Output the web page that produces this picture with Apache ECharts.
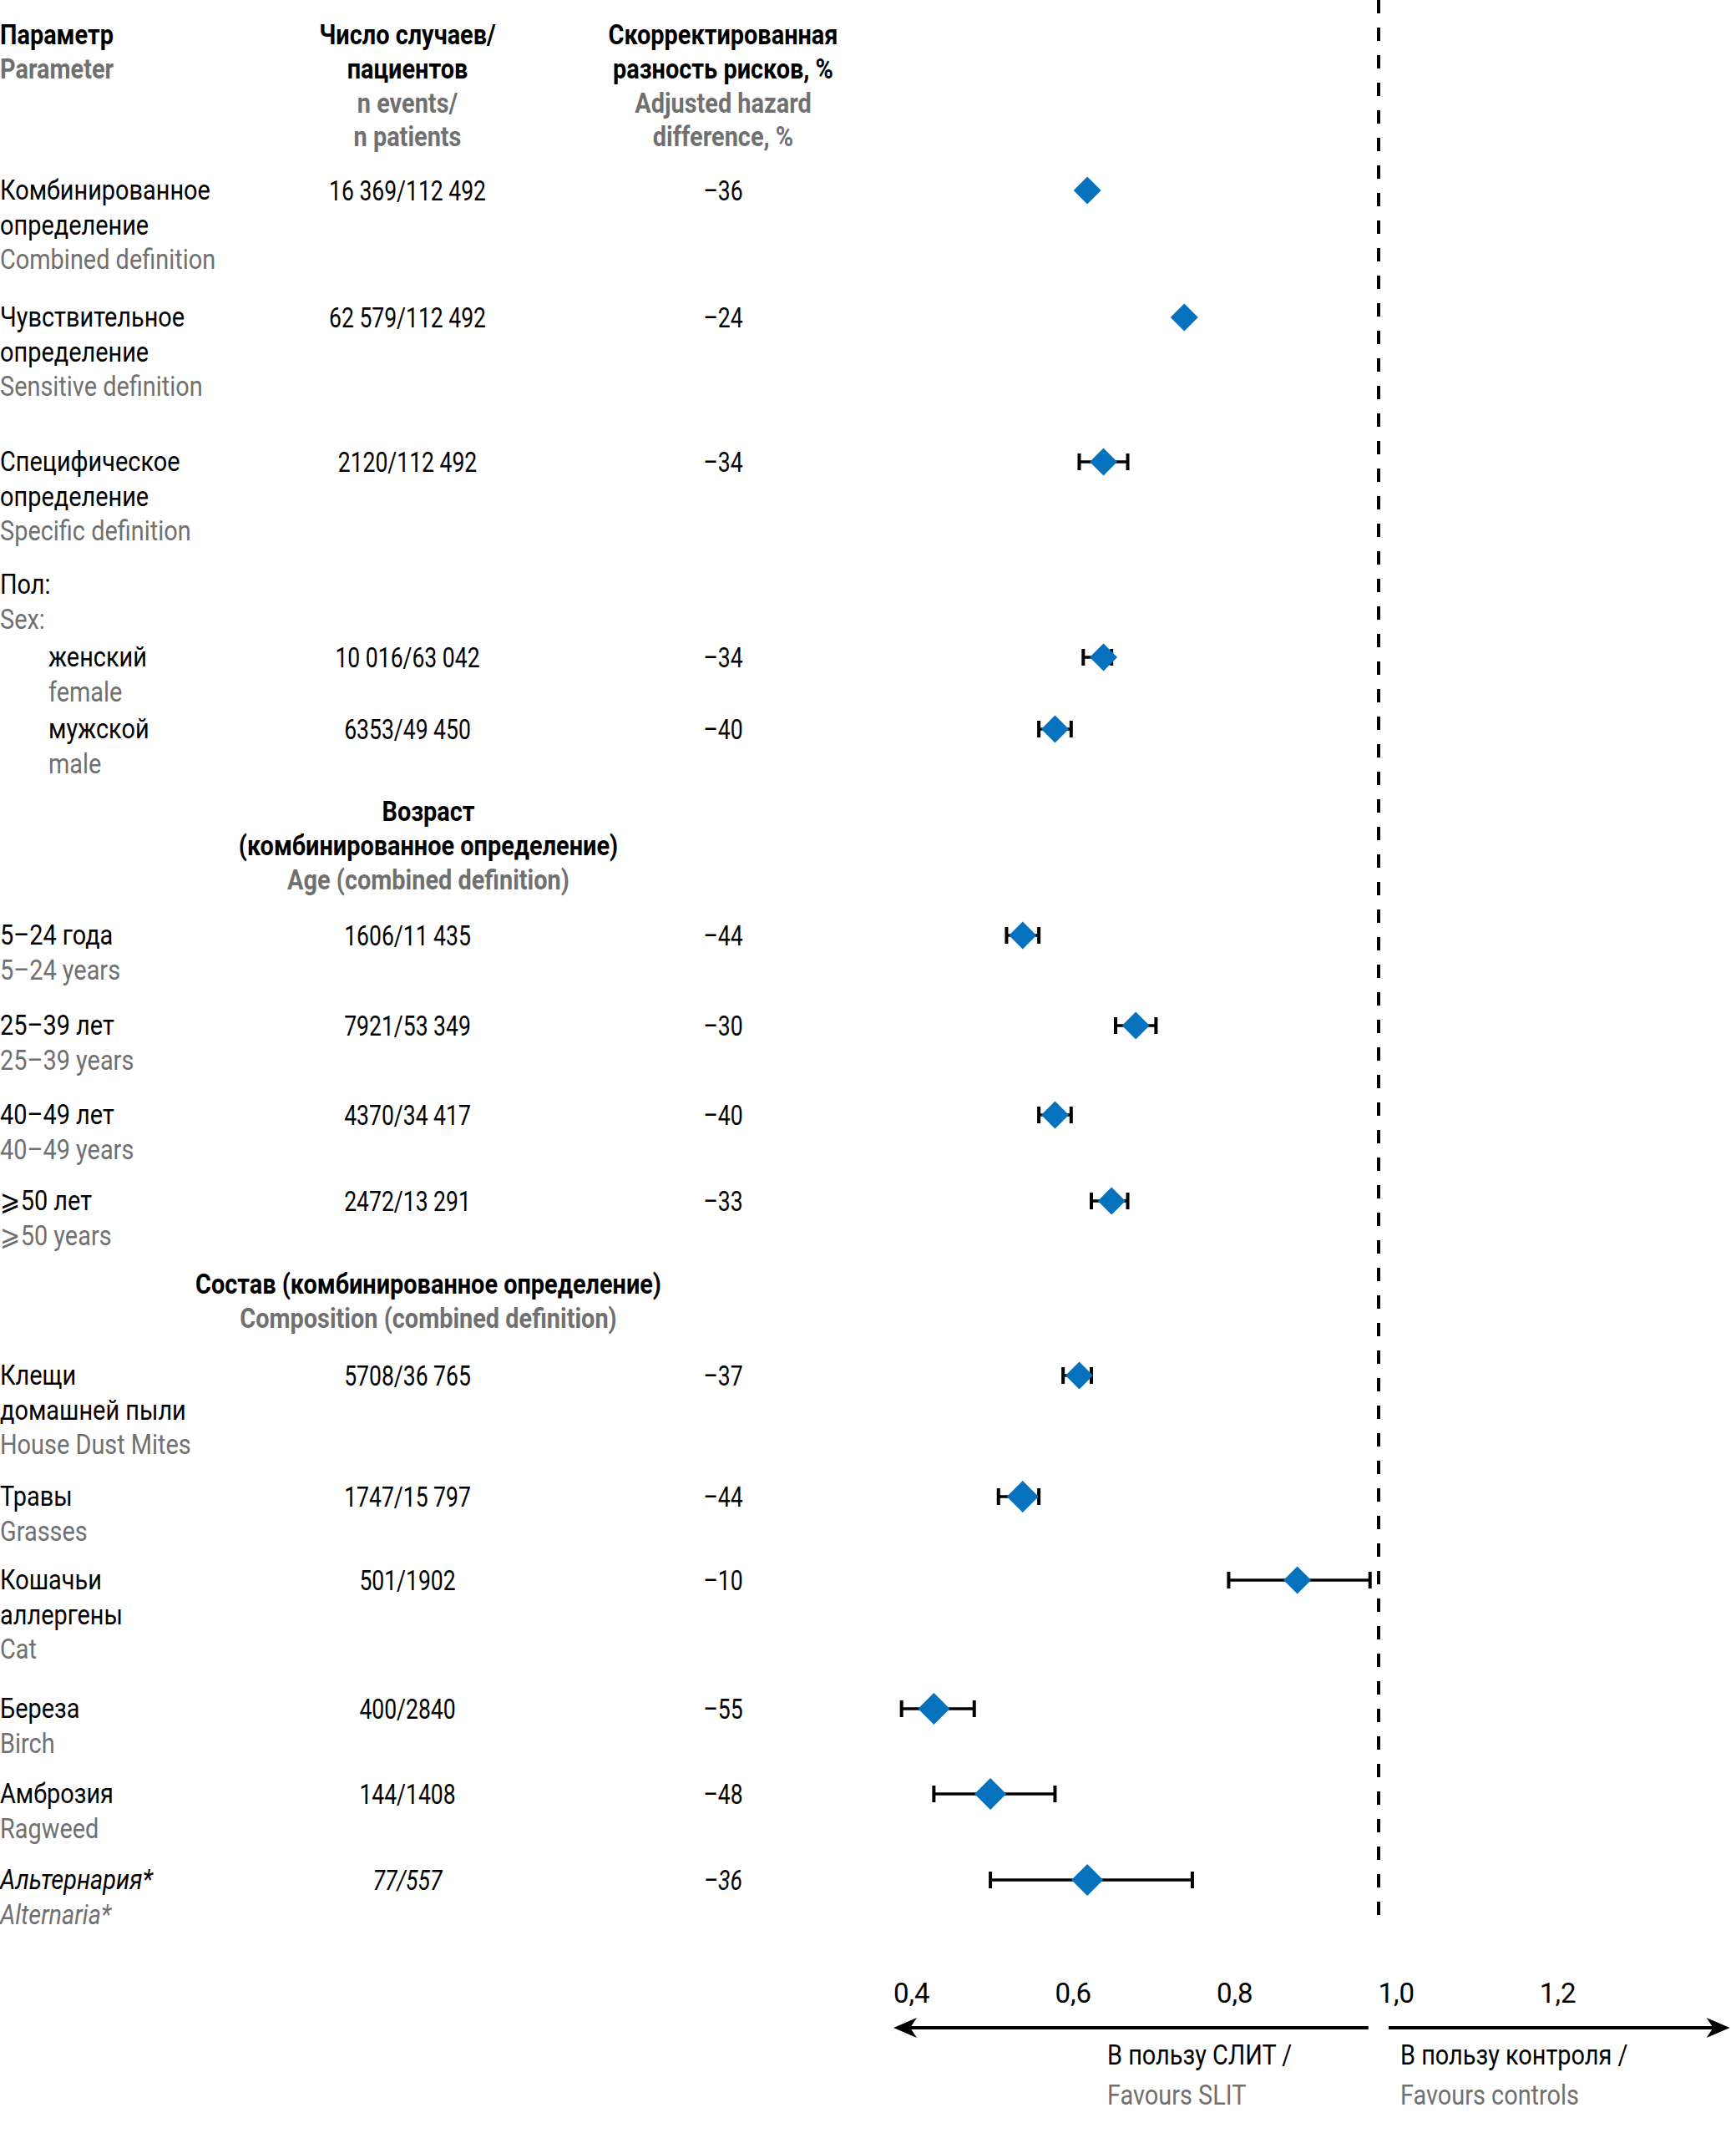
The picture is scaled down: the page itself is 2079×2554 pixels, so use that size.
<!DOCTYPE html>
<html><head><meta charset="utf-8">
<script src="https://cdn.jsdelivr.net/npm/echarts@6/dist/echarts.min.js"></script>
<style>html,body{margin:0;padding:0;background:#fff}#c{width:2079px;height:2554px}</style>
</head><body><div id="c"></div>
<script>
// ---------- DATA ----------
const labelsRu = [
  ['Комбинированное','определение'], ['Чувствительное','определение'], ['Специфическое','определение'],
  ['женский'], ['мужской'],
  ['5–24 года'], ['25–39 лет'], ['40–49 лет'], ['⩾50 лет'],
  ['Клещи','домашней пыли'], ['Травы'], ['Кошачьи','аллергены'], ['Береза'], ['Амброзия'], ['Альтернария*']
];
const labelsEn = ['Combined definition','Sensitive definition','Specific definition','female','male',
  '5–24 years','25–39 years','40–49 years','⩾50 years','House Dust Mites','Grasses','Cat','Birch','Ragweed','Alternaria*'];
const events = ['16 369/112 492','62 579/112 492','2120/112 492','10 016/63 042','6353/49 450',
  '1606/11 435','7921/53 349','4370/34 417','2472/13 291','5708/36 765','1747/15 797','501/1902','400/2840','144/1408','77/557'];
const hazardDiff = ['–36','–24','–34','–34','–40','–44','–30','–40','–33','–37','–44','–10','–55','–48','–36'];
const hr     = [0.64, 0.76, 0.66, 0.66, 0.60, 0.56, 0.70, 0.60, 0.67, 0.63, 0.56, 0.90, 0.45, 0.52, 0.64];
const ciLow  = [null, null, 0.63, 0.635, 0.58, 0.54, 0.675, 0.58, 0.645, 0.61, 0.53, 0.815, 0.41, 0.45, 0.52];
const ciHigh = [null, null, 0.69, 0.67, 0.62, 0.58, 0.725, 0.62, 0.69, 0.645, 0.58, 0.99, 0.50, 0.60, 0.77];
const tickValues = [0.4, 0.6, 0.8, 1.0, 1.2];

// ---------- LAYOUT ----------
const rowPos = [228, 380, 553, 787, 873, 1120, 1228, 1335, 1438, 1647, 1792, 1892, 2046, 2148, 2251];
const markSize = [33,33,33,33,33,33,33,33,33,33,38,33,38,38,38];
const indented = [3,4];
const italicRow = 14;
const FONT = "Roboto, 'Noto Sans', sans-serif";
const FS = 34, SX = 0.85, SX_NUM = 0.78, PITCH = 41.5, TEXT_DY = 0;
const BLACK = '#000', GREY = '#707070', BLUE = '#0672BE';
const X_LABEL = 0, X_INDENT = 58, X_EVENTS = 488, X_DIFF = 866, X_SECTION = 513;

const chart = echarts.init(document.getElementById('c'), null, {renderer: 'svg'});

const ciData = [];
hr.forEach((v, i) => { if (ciLow[i] != null) ciData.push([ciLow[i], ciHigh[i], rowPos[i]]); });
const ptData = hr.map((v, i) => ({value: [v, rowPos[i]], symbolSize: markSize[i]}));

chart.setOption({
  animation: false,
  grid: {left: 1070, width: 1006, top: 0, height: 2360},
  xAxis: {
    type: 'value', min: 0.4, max: 1.44,
    axisLine: {show: false}, splitLine: {show: false},
    axisTick: {show: false},
    axisLabel: {
      customValues: tickValues,
      formatter: v => v.toFixed(1).replace('.', ','),
      align: 'left', margin: 10, fontSize: 33, fontFamily: FONT, color: BLACK
    }
  },
  yAxis: {type: 'value', min: 0, max: 2360, inverse: true, show: false},
  series: [
    {
      type: 'custom', z: 2, silent: true,
      data: ciData,
      renderItem: function (params, api) {
        const lo = api.coord([api.value(0), api.value(2)]);
        const hi = api.coord([api.value(1), api.value(2)]);
        const h = 10;
        const st = {stroke: BLACK, lineWidth: 4};
        return {type: 'group', children: [
          {type: 'line', shape: {x1: lo[0], y1: lo[1], x2: hi[0], y2: hi[1]}, style: {stroke: BLACK, lineWidth: 3.5}},
          {type: 'line', shape: {x1: lo[0], y1: lo[1] - h, x2: lo[0], y2: lo[1] + h}, style: st},
          {type: 'line', shape: {x1: hi[0], y1: hi[1] - h, x2: hi[0], y2: hi[1] + h}, style: st}
        ]};
      },
      markLine: {
        silent: true, symbol: ['none', 'none'], label: {show: false},
        lineStyle: {color: BLACK, width: 4, type: [16, 17]},
        data: [[{coord: [1, 0]}, {coord: [1, 2303]}]]
      }
    },
    {
      type: 'scatter', z: 3, silent: true, symbol: 'diamond',
      itemStyle: {color: BLUE, opacity: 1},
      data: ptData
    }
  ]
});

// ---------- TEXT & ANNOTATIONS ----------
const py = v => chart.convertToPixel({yAxisIndex: 0}, v);
const px = v => chart.convertToPixel({xAxisIndex: 0}, v);
const g = [];
function txt(s, x, y, o) {
  o = o || {};
  g.push({type: 'text', x: x, y: y, scaleX: o.sx || SX, silent: true, style: {
    text: s, fill: o.grey ? GREY : BLACK,
    font: (o.italic ? 'italic ' : '') + (o.bold ? 'bold ' : '') + FS + 'px ' + FONT,
    align: o.align || 'left', verticalAlign: 'middle'
  }});
}
// header
const HY = [42, 83, 124, 164];
txt('Параметр', X_LABEL, HY[0], {bold: true});
txt('Parameter', X_LABEL, HY[1], {bold: true, grey: true});
txt('Число случаев/', X_EVENTS, HY[0], {bold: true, align: 'center'});
txt('пациентов', X_EVENTS, HY[1], {bold: true, align: 'center'});
txt('n events/', X_EVENTS, HY[2], {bold: true, grey: true, align: 'center'});
txt('n patients', X_EVENTS, HY[3], {bold: true, grey: true, align: 'center'});
txt('Скорректированная', X_DIFF, HY[0], {bold: true, align: 'center'});
txt('разность рисков, %', X_DIFF, HY[1], {bold: true, align: 'center'});
txt('Adjusted hazard', X_DIFF, HY[2], {bold: true, grey: true, align: 'center'});
txt('difference, %', X_DIFF, HY[3], {bold: true, grey: true, align: 'center'});
// section headers
txt('Пол:', X_LABEL, 700);
txt('Sex:', X_LABEL, 742, {grey: true});
txt('Возраст', X_SECTION, 972, {bold: true, align: 'center'});
txt('(комбинированное определение)', X_SECTION, 1013, {bold: true, align: 'center'});
txt('Age (combined definition)', X_SECTION, 1054, {bold: true, grey: true, align: 'center'});
txt('Состав (комбинированное определение)', X_SECTION, 1538, {bold: true, align: 'center'});
txt('Composition (combined definition)', X_SECTION, 1579, {bold: true, grey: true, align: 'center'});
// rows
labelsRu.forEach((lines, i) => {
  const y0 = py(rowPos[i]) + TEXT_DY;
  const x = indented.includes(i) ? X_INDENT : X_LABEL;
  const it = i === italicRow;
  lines.forEach((l, k) => txt(l, x, y0 + k * PITCH, {italic: it}));
  txt(labelsEn[i], x, y0 + lines.length * PITCH, {grey: true, italic: it});
  txt(events[i], X_EVENTS, y0, {align: 'center', italic: it, sx: SX_NUM});
  txt(hazardDiff[i], X_DIFF, y0, {align: 'center', italic: it, sx: SX_NUM});
});
// arrows
const AY = 2428;
const xl0 = px(0.4), xl1 = px(0.988), xr0 = px(1.013), xr1 = px(1.4355);
g.push({type: 'line', silent: true, shape: {x1: xl1, y1: AY, x2: xl0 + 20, y2: AY}, style: {stroke: BLACK, lineWidth: 4}});
g.push({type: 'polygon', silent: true, shape: {points: [[xl0, AY], [xl0 + 28, AY - 12], [xl0 + 20, AY], [xl0 + 28, AY + 12]]}, style: {fill: BLACK}});
g.push({type: 'line', silent: true, shape: {x1: xr0, y1: AY, x2: xr1 - 20, y2: AY}, style: {stroke: BLACK, lineWidth: 4}});
g.push({type: 'polygon', silent: true, shape: {points: [[xr1, AY], [xr1 - 28, AY - 12], [xr1 - 20, AY], [xr1 - 28, AY + 12]]}, style: {fill: BLACK}});
txt('В пользу СЛИТ /', 1326, 2461);
txt('Favours SLIT', 1326, 2509, {grey: true});
txt('В пользу контроля /', 1677, 2461);
txt('Favours controls', 1677, 2509, {grey: true});

chart.setOption({graphic: {elements: g}});
</script></body></html>
